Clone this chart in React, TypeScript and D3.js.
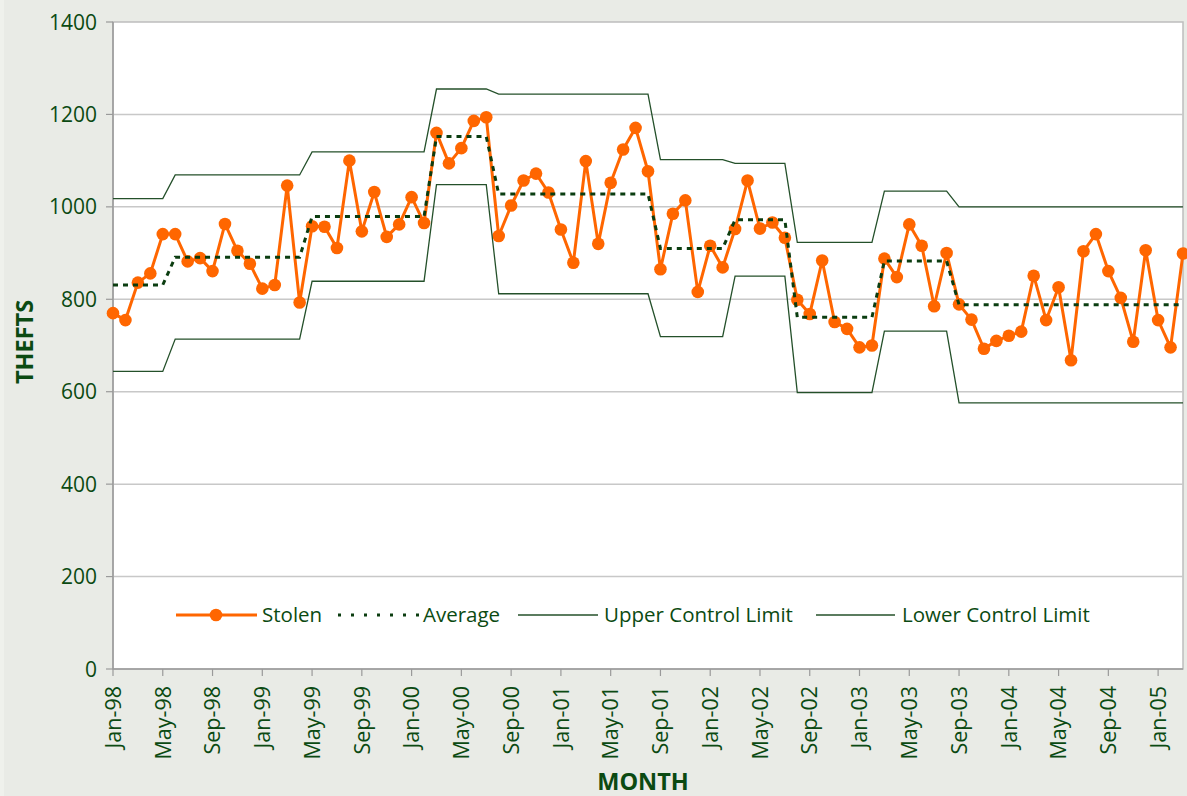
import React from "react";
import * as d3 from "d3";

// monthly categories, Jan-98 .. Mar-05
const months: Date[] = d3.timeMonth.range(new Date(1998, 0, 1), new Date(2005, 3, 1));
const fmt = d3.timeFormat("%b-%y");

const stolen = [
  770, 755, 836, 856, 941, 941, 882, 889, 861, 963,
  905, 877, 823, 831, 1046, 793, 958, 957, 911, 1100,
  947, 1032, 935, 962, 1021, 965, 1160, 1094, 1127, 1186,
  1194, 937, 1003, 1057, 1072, 1031, 951, 879, 1099, 920,
  1052, 1124, 1171, 1077, 865, 985, 1014, 816, 916, 869,
  952, 1057, 953, 966, 933, 799, 768, 884, 751, 736,
  696, 700, 888, 848, 962, 916, 785, 900, 789, 756,
  693, 710, 721, 730, 851, 755, 826, 668, 904, 941,
  861, 803, 708, 906, 755, 696, 899,
];

const average = [
  831, 831, 831, 831, 831,
  891, 891, 891, 891, 891, 891, 891, 891, 891, 891, 891,
  979, 979, 979, 979, 979, 979, 979, 979, 979, 979,
  1152, 1152, 1152, 1152, 1152,
  1028, 1028, 1028, 1028, 1028, 1028, 1028, 1028, 1028, 1028, 1028, 1028, 1028,
  910, 910, 910, 910, 910, 910,
  972, 972, 972, 972, 972,
  761, 761, 761, 761, 761, 761, 761,
  883, 883, 883, 883, 883, 883,
  788, 788, 788, 788, 788, 788, 788, 788, 788, 788, 788, 788, 788, 788, 788, 788, 788, 788, 788,
];

const upperLimit = [
  1018, 1018, 1018, 1018, 1018,
  1069, 1069, 1069, 1069, 1069, 1069, 1069, 1069, 1069, 1069, 1069,
  1119, 1119, 1119, 1119, 1119, 1119, 1119, 1119, 1119, 1119,
  1255, 1255, 1255, 1255, 1255,
  1244, 1244, 1244, 1244, 1244, 1244, 1244, 1244, 1244, 1244, 1244, 1244, 1244,
  1102, 1102, 1102, 1102, 1102, 1102,
  1094, 1094, 1094, 1094, 1094,
  923, 923, 923, 923, 923, 923, 923,
  1034, 1034, 1034, 1034, 1034, 1034,
  1000, 1000, 1000, 1000, 1000, 1000, 1000, 1000, 1000, 1000, 1000, 1000, 1000, 1000, 1000, 1000, 1000, 1000, 1000,
];

const lowerLimit = [
  644, 644, 644, 644, 644,
  714, 714, 714, 714, 714, 714, 714, 714, 714, 714, 714,
  839, 839, 839, 839, 839, 839, 839, 839, 839, 839,
  1048, 1048, 1048, 1048, 1048,
  812, 812, 812, 812, 812, 812, 812, 812, 812, 812, 812, 812, 812,
  719, 719, 719, 719, 719, 719,
  850, 850, 850, 850, 850,
  598, 598, 598, 598, 598, 598, 598,
  731, 731, 731, 731, 731, 731,
  576, 576, 576, 576, 576, 576, 576, 576, 576, 576, 576, 576, 576, 576, 576, 576, 576, 576, 576,
];

const yTicks = [0, 200, 400, 600, 800, 1000, 1200, 1400];

const W = 1187;
const H = 796;
const M = { left: 113, right: 1183, top: 22, bottom: 669 };

const GREEN = "#0b4a12";
const ORANGE = "#ff6600";
const FONT = "'Open Sans', 'Noto Sans', sans-serif";

export default function App() {
  const x = d3
    .scalePoint<number>()
    .domain(months.map((_, i) => i))
    .range([M.left, M.right]);
  const y = d3.scaleLinear().domain([0, 1400]).range([M.bottom, M.top]);

  const line = d3
    .line<number>()
    .x((_, i) => x(i) as number)
    .y((d) => y(d));

  const xTickIdx = months.map((_, i) => i).filter((i) => i % 4 === 0);

  return (
    <svg
      width={W}
      height={H}
      style={{ position: "absolute", left: 0, top: 0, display: "block" }}
      fontFamily={FONT}
    >
      <rect x={0} y={0} width={W} height={H} fill="#e9ebe6" />
      <rect x={0} y={0} width={4} height={H} fill="#eff1ec" />
      <rect
        x={M.left}
        y={M.top}
        width={M.right - M.left}
        height={M.bottom - M.top}
        fill="#ffffff"
        stroke="#bdbdbd"
        strokeWidth={1.5}
      />

      {/* gridlines */}
      {yTicks.slice(1, -1).map((t) => (
        <line
          key={`g-${t}`}
          x1={M.left}
          x2={M.right}
          y1={y(t)}
          y2={y(t)}
          stroke="#c8c8c8"
          strokeWidth={1.5}
        />
      ))}

      {/* y axis */}
      <line x1={M.left} x2={M.left} y1={M.top} y2={M.bottom} stroke="#9a9a9a" strokeWidth={1.5} />
      {yTicks.map((t) => (
        <g key={`y-${t}`}>
          <line x1={M.left - 7} x2={M.left} y1={y(t)} y2={y(t)} stroke="#9a9a9a" strokeWidth={1.2} />
          <text
            x={M.left - 16}
            y={y(t)}
            dy="0.36em"
            textAnchor="end"
            fontSize={21}
            fill={GREEN}
          >
            {t}
          </text>
        </g>
      ))}

      {/* x axis */}
      <line x1={M.left} x2={M.right} y1={M.bottom} y2={M.bottom} stroke="#9a9a9a" strokeWidth={1.5} />
      {xTickIdx.map((i) => (
        <g key={`x-${i}`}>
          <line
            x1={x(i)}
            x2={x(i)}
            y1={M.bottom}
            y2={M.bottom + 7}
            stroke="#9a9a9a"
            strokeWidth={1.2}
          />
          <text
            transform={`translate(${x(i)},${M.bottom + 17}) rotate(-90)`}
            dy="0.36em"
            textAnchor="end"
            fontSize={21.5}
            fill={GREEN}
          >
            {fmt(months[i])}
          </text>
        </g>
      ))}

      {/* axis titles */}
      <text
        transform={`translate(25,342) rotate(-90)`}
        dy="0.36em"
        textAnchor="middle"
        fontSize={23.5}
        fontWeight="bold"
        fill={GREEN}
      >
        THEFTS
      </text>
      <text x={643} y={782} dy="0.36em" textAnchor="middle" fontSize={23.5} fontWeight="bold" fill={GREEN}>
        MONTH
      </text>

      {/* stolen */}
      <path d={line(stolen) ?? ""} fill="none" stroke={ORANGE} strokeWidth={3} strokeLinejoin="round" />
      {stolen.map((d, i) => (
        <circle key={`s-${i}`} cx={x(i)} cy={y(d)} r={6.3} fill={ORANGE} />
      ))}

      {/* average */}
      <path d={line(average) ?? ""} fill="none" stroke="#0b3d10" strokeWidth={3} strokeDasharray="5,5" />

      {/* control limits */}
      <path d={line(upperLimit) ?? ""} fill="none" stroke="#24502a" strokeWidth={1.3} />
      <path d={line(lowerLimit) ?? ""} fill="none" stroke="#24502a" strokeWidth={1.3} />

      {/* legend */}
      <g fontSize={20.5} fill={GREEN}>
        <line x1={176} x2={257} y1={615} y2={615} stroke={ORANGE} strokeWidth={3} />
        <circle cx={216} cy={615} r={6.3} fill={ORANGE} />
        <text x={262} y={615} dy="0.36em">Stolen</text>

        <line x1={338} x2={420} y1={615} y2={615} stroke="#0b3d10" strokeWidth={3} strokeDasharray="3,10" />
        <text x={423} y={615} dy="0.36em">Average</text>

        <line x1={518} x2={598} y1={615} y2={615} stroke="#24502a" strokeWidth={1.3} />
        <text x={604} y={615} dy="0.36em">Upper Control Limit</text>

        <line x1={816} x2={895} y1={615} y2={615} stroke="#24502a" strokeWidth={1.3} />
        <text x={902} y={615} dy="0.36em">Lower Control Limit</text>
      </g>
    </svg>
  );
}
